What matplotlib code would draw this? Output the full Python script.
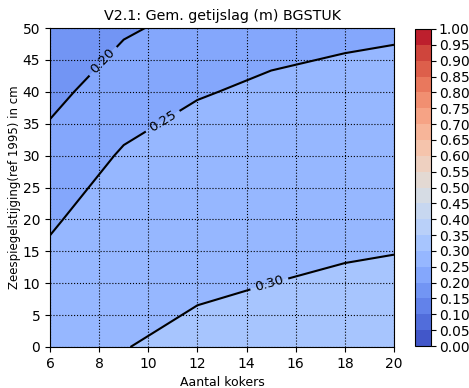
import matplotlib
matplotlib.use("Agg")
import matplotlib.pyplot as plt
import numpy as np

# Number of culverts and sea level rise (cm, ref 1995)
kokers = [6, 9, 12, 15, 18, 20]
zeespiegel = [0, 10, 20, 30, 40, 50]

# Mean tidal range (m) per culvert count, rows follow zeespiegel
getijslag = np.array([
    # 6      9       12      15     18      20
    [0.299, 0.299,  0.310,  0.315, 0.320,  0.322],   # 0
    [0.271, 0.291,  0.2947, 0.300, 0.3048, 0.3068],  # 10
    [0.243, 0.2826, 0.2791, 0.285, 0.2896, 0.2916],  # 20
    [0.216, 0.255,  0.2636, 0.270, 0.2744, 0.2764],  # 30
    [0.188, 0.2247, 0.248,  0.255, 0.2592, 0.2612],  # 40
    [0.160, 0.1945, 0.2135, 0.240, 0.244,  0.246],   # 50
])

levels = np.arange(0, 1.0001, 0.05)
line_levels = [0.20, 0.25, 0.30]

fig = plt.figure(figsize=(4.69, 3.88), dpi=100)
ax = fig.add_axes([50 / 469, 1 - 347 / 388, 344 / 469, 319 / 388])
cax = fig.add_axes([415 / 469, 1 - 346 / 388, 16 / 469, 317 / 388])

X, Y = np.meshgrid(kokers, zeespiegel)
cf = ax.contourf(X, Y, getijslag, levels=levels, cmap="coolwarm")
cs = ax.contour(X, Y, getijslag, levels=line_levels, colors="black", linewidths=1.5)
ax.clabel(cs, fmt="%.2f", fontsize=9.5,
          manual=[(8.1, 45), (10.6, 35.3), (14.9, 10.2)])

ax.set_xlim(6, 20)
ax.set_ylim(0, 50)
ax.set_xticks(range(6, 21, 2))
ax.set_yticks(range(0, 51, 5))
ax.grid(True, color="black", linestyle=":", linewidth=0.8)
ax.set_title("V2.1: Gem. getijslag (m) BGSTUK", fontsize=10.3)
ax.set_xlabel("Aantal kokers", fontsize=9)
ax.set_ylabel("Zeespiegelstijging(ref 1995) in cm", fontsize=8.5, labelpad=1)

cb = fig.colorbar(cf, cax=cax, ticks=levels, format="%.2f")
cb.ax.tick_params(labelsize=10, pad=2)

fig.savefig("out.png", dpi=100)
